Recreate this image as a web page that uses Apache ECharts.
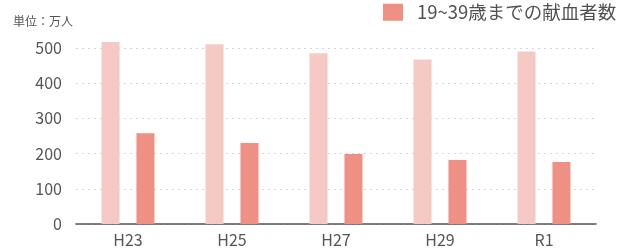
<!DOCTYPE html>
<html>
<head>
<meta charset="utf-8">
<script src="https://cdn.jsdelivr.net/npm/echarts@6/dist/echarts.min.js"></script>
<style>
  html, body { margin: 0; padding: 0; background: #fff; }
  #chart { width: 630px; height: 249px; }
</style>
</head>
<body>
<div id="chart"></div>
<script>
// 年度と献血者数（万人）
const years = ['H23', 'H25', 'H27', 'H29', 'R1']
const totalDonors = [517, 511, 485, 467, 490]
const youngDonors = [258, 230, 199, 182, 176]
const youngName = '19~39歳までの献血者数'
const yTicks = [0, 100, 200, 300, 400, 500]

const font = "'Noto Sans CJK JP', 'Noto Sans', sans-serif"
let myChart = echarts.init(document.getElementById('chart'))
myChart.setOption({
    animation: false,
    textStyle: { fontFamily: font },
    title: {
        text: '単位：万人',
        left: 13,
        top: 15,
        padding: 0,
        textStyle: { fontSize: 12, fontWeight: 'normal', color: '#555', fontFamily: font }
    },
    legend: {
        data: [{ name: youngName, icon: 'rect' }],
        left: 383,
        top: 3,
        padding: 0,
        itemWidth: 20,
        itemHeight: 17,
        itemStyle: { borderWidth: 0 },
        textStyle: { fontSize: 18.5, color: '#505050', padding: [0, 0, 0, 9], fontFamily: font }
    },
    grid: { left: 76, right: 34, top: 48, bottom: 25 },
    xAxis: {
        type: 'category',
        data: years,
        axisLine: { lineStyle: { color: '#555', width: 1.5 } },
        axisTick: { show: false },
        axisLabel: { fontSize: 16, color: '#555', margin: 8 }
    },
    yAxis: {
        type: 'value',
        min: yTicks[0],
        max: yTicks[yTicks.length - 1],
        interval: 100,
        axisLine: { show: false },
        axisTick: { show: false },
        axisLabel: { fontSize: 16, color: '#555', margin: 14 },
        splitLine: { lineStyle: { color: '#d6d6d6', type: [2, 4] } }
    },
    series: [{
        name: '献血者数',
        type: 'bar',
        data: totalDonors,
        barWidth: 18,
        barGap: '94%',
        clip: false,
        itemStyle: { color: '#f6cac4' }
    }, {
        name: youngName,
        type: 'bar',
        data: youngDonors,
        barWidth: 18,
        clip: false,
        itemStyle: { color: '#ee9083' }
    }]
})
</script>
</body>
</html>
